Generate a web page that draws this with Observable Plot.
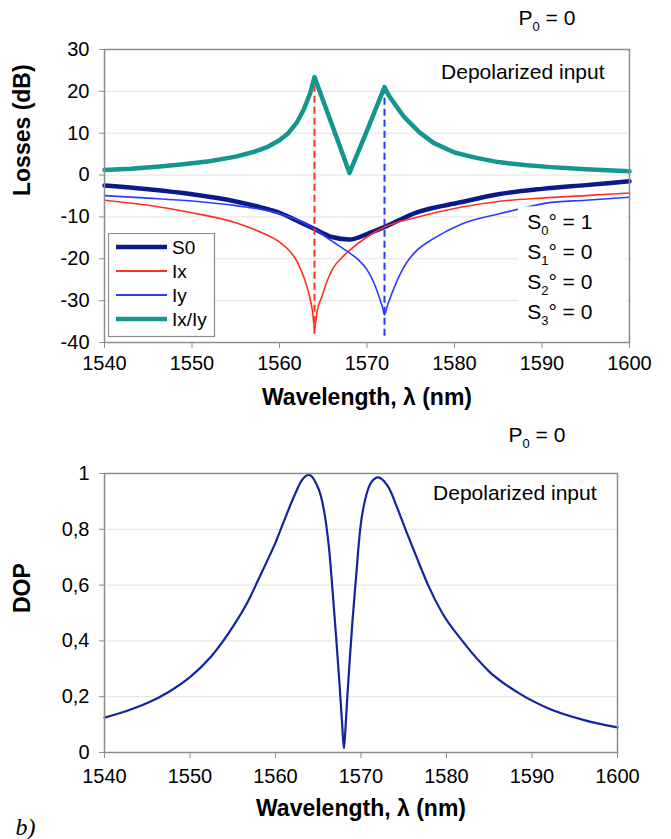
<!DOCTYPE html>
<html><head><meta charset="utf-8">
<script src="https://cdn.jsdelivr.net/npm/d3@7"></script>
<script src="https://cdn.jsdelivr.net/npm/@observablehq/plot@0.6"></script>
<style>
body{margin:0;background:#fff;}
#wrap{position:relative;width:671px;height:839px;font-family:"Liberation Sans",Arial,sans-serif;overflow:hidden;}
#topc,#botc,#legend{position:absolute;left:0;}
#topc{top:0}
#botc{top:410px}
#legend{left:108px;top:233px;}
</style></head><body><div id="wrap"><div id="topc"></div><div id="botc"></div><div id="legend"></div></div>
<script>
// ---------- data ----------
const xTicks = [1540,1550,1560,1570,1580,1590,1600];
const yTicksTop = [-40,-30,-20,-10,0,10,20,30];
const yTicksBot = [0,0.2,0.4,0.6,0.8,1];

const lamS0  = [1540,1545,1550,1555,1558,1560,1562.4,1564,1566,1568,1570,1572,1575.7,1580.7,1585,1590,1595,1600];
const lossS0 = [-2.5,-3.4,-4.6,-6.3,-7.8,-9.0,-11.3,-12.9,-14.8,-15.4,-14.1,-12.4,-8.9,-6.5,-4.6,-3.3,-2.4,-1.5];

const lamIx  = [1540,1545,1550,1555,1558,1560,1561,1562,1562.8,1563.4,1563.8,1564,1564.3,1564.85,1565.5,1566.2,1567.2,1568,1570,1572,1575.7,1580.7,1585,1590,1595,1600];
const lossIx = [-6.0,-7.2,-9.0,-11.4,-13.8,-16.0,-17.8,-20.6,-24.5,-28.7,-33.0,-36.8,-32.5,-29.0,-25.0,-22.0,-19.6,-18.0,-14.8,-12.4,-10.1,-7.7,-6.3,-5.5,-4.9,-4.3];

const lamIy  = [1540,1545,1550,1555,1560,1562.4,1564,1566,1568,1569,1570,1570.8,1571.4,1571.8,1572,1572.3,1572.6,1573.2,1573.8,1574.5,1575.5,1577.6,1580.7,1585,1587.2,1590.5,1595,1600];
const lossIy = [-4.9,-5.5,-6.2,-7.3,-9.2,-11.0,-12.9,-15.8,-18.6,-20.2,-22.6,-25.8,-29.2,-31.8,-33.4,-31.4,-29.6,-26.4,-23.6,-21.0,-18.4,-15.2,-11.8,-9.3,-8.2,-6.7,-6.0,-5.3];

const lamRatio  = [1540,1543,1546,1549,1552,1555,1557,1558.5,1560,1561,1562,1562.8,1563.5,1564,1566,1568,1570,1572,1572.5,1573.3,1574.2,1575,1576,1577.6,1580,1582.5,1585,1588,1591,1595,1600];
const lossRatio = [1.2,1.5,2.0,2.6,3.3,4.4,5.5,6.6,8.3,10.0,12.6,15.8,19.5,23.4,12.0,0.5,10.6,21.0,19.0,16.6,14.0,12.3,10.2,7.7,5.4,4.1,3.1,2.4,1.9,1.4,0.9];

// resonance markers (dashed): wavelength, bottom, top
const markLam = [1564,1572];
const markLow = [-38,-38.5];
const markHigh = [21.2,20.6];

const lamDop = [1540,1542.5,1545,1547.5,1550,1552.5,1555,1557,1558,1559,1560,1561,1562.2,1563,1563.9,1564.7,1565.3,1565.9,1566.3,1566.7,1567.1,1567.5,1567.8,1568.0,1568.15,1568.4,1568.7,1569.0,1569.4,1569.9,1570.6,1571.2,1572.0,1572.7,1573.4,1574.2,1575.2,1576.5,1577.85,1579.5,1581.85,1585,1588.6,1592,1596,1600];
const dop    = [0.125,0.148,0.177,0.217,0.27,0.345,0.45,0.555,0.62,0.685,0.752,0.83,0.92,0.972,0.995,0.968,0.92,0.824,0.72,0.57,0.41,0.24,0.10,0.015,0.07,0.20,0.34,0.47,0.62,0.80,0.92,0.968,0.986,0.972,0.94,0.88,0.80,0.70,0.60,0.50,0.40,0.29,0.21,0.157,0.117,0.09];

const seriesNames  = ["S0","Ix","Iy","Ix/Iy"];
const seriesColors = ["#0a1a8a","#ff3020","#2a3cff","#12968f"];
const seriesWidths = [4.5,1.6,1.6,4.5];

const stokesText = ["S0° = 1","S1° = 0","S2° = 0","S3° = 0"];
const stokesLam  = [1588.3,1588.3,1588.3,1588.3];
const stokesLoss = [-11.3,-18.4,-25.6,-32.7];
// white box behind the Stokes annotation
const boxLam = [1587.3,1599.6];
const boxLoss = [-39.3,-7.6];

const fmtComma = d => d === 0 ? "0" : d === 1 ? "1" : String(d).replace(".", ",");

// ---------- tables ----------
const tab = (xs, ys) => xs.map((x, i) => ({x, y: ys[i]}));
const s0 = tab(lamS0, lossS0), ix = tab(lamIx, lossIx), iy = tab(lamIy, lossIy), ratio = tab(lamRatio, lossRatio);
const markers = markLam.map((x, i) => ({x, y1: markLow[i], y2: markHigh[i], c: seriesColors[i + 1]}));
const stokes = stokesText.map((t, i) => ({x: stokesLam[i], y: stokesLoss[i], t}));
const box = [{x1: boxLam[0], x2: boxLam[1], y1: boxLoss[0], y2: boxLoss[1]}];
const dopT = tab(lamDop, dop);

const style = {fontFamily: "'Liberation Sans', Arial, sans-serif", fontSize: "20px", color: "#000", background: "white"};
const gridCol = "#e3e3e3", frameCol = "#8c8c8c";

function subscripts(svg) {
  d3.select(svg).selectAll("text").each(function () {
    const m = /^([SP])(\d)(.*=.*)$/.exec(this.textContent);
    if (!m) return;
    const el = d3.select(this);
    el.text(null);
    el.append("tspan").text(m[1]);
    el.append("tspan").attr("font-size", "13px").attr("dy", "6").text(m[2]);
    el.append("tspan").attr("dy", "-6").text(m[3]);
  });
}

// ---------- top chart ----------
const topChart = Plot.plot({
  width: 671, height: 410,
  marginLeft: 104, marginRight: 42, marginTop: 49, marginBottom: 68,
  style,
  color: {type: "identity"},
  x: {domain: [1540, 1600]},
  y: {domain: [-40, 30]},
  marks: [
    Plot.gridY(yTicksTop.slice(1, -1), {stroke: gridCol, strokeOpacity: 1}),
    Plot.line(s0, {x: "x", y: "y", stroke: seriesColors[0], strokeWidth: seriesWidths[0], curve: "monotone-x"}),
    Plot.line(ix, {x: "x", y: "y", stroke: seriesColors[1], strokeWidth: seriesWidths[1], curve: "monotone-x"}),
    Plot.line(iy, {x: "x", y: "y", stroke: seriesColors[2], strokeWidth: seriesWidths[2], curve: "monotone-x"}),
    Plot.ruleX(markers, {x: "x", y1: "y1", y2: "y2", stroke: "c", strokeWidth: 2, strokeDasharray: "7,4"}),
    Plot.line(ratio, {x: "x", y: "y", stroke: seriesColors[3], strokeWidth: seriesWidths[3], curve: "linear", strokeLinejoin: "round"}),
    Plot.rect(box, {x1: "x1", x2: "x2", y1: "y1", y2: "y2", fill: "white"}),
    Plot.text(stokes, {x: "x", y: "y", text: "t", textAnchor: "start", fontSize: 21}),
    Plot.text(["Depolarized input"], {frameAnchor: "top-right", dx: -25, dy: 23, textAnchor: "end", lineAnchor: "middle", fontSize: 21}),
    Plot.text(["P0 = 0"], {frameAnchor: "top-right", dx: -111, dy: -31, textAnchor: "start", lineAnchor: "middle", fontSize: 21}),
    Plot.frame({stroke: frameCol, strokeWidth: 1.5}),
    Plot.axisX({ticks: xTicks, tickSize: 6, tickPadding: 7, tickFormat: d => String(d), label: null, stroke: frameCol, fontSize: 20}),
    Plot.axisY({ticks: yTicksTop, tickSize: 5, tickPadding: 10, tickFormat: d => String(d), label: null, stroke: frameCol, fontSize: 20}),
    Plot.text(["Wavelength, λ (nm)"], {frameAnchor: "bottom", dy: 55, lineAnchor: "middle", fontWeight: "bold", fontSize: 23}),
    Plot.text(["Losses (dB)"], {frameAnchor: "left", dx: -82, rotate: -90, lineAnchor: "middle", fontWeight: "bold", fontSize: 23})
  ]
});
subscripts(topChart);
document.getElementById("topc").appendChild(topChart);

// ---------- legend ----------
const lg = d3.create("svg").attr("width", 108).attr("height", 105);
lg.append("rect").attr("x", 0.5).attr("y", 0.5).attr("width", 106).attr("height", 103)
  .attr("fill", "white").attr("stroke", "#8c8c8c").attr("stroke-width", 1.2);
seriesNames.forEach((n, i) => {
  const yy = 14 + i * 24;
  lg.append("line").attr("x1", 8).attr("x2", 59).attr("y1", yy).attr("y2", yy)
    .attr("stroke", seriesColors[i]).attr("stroke-width", seriesWidths[i] === 1.6 ? 2 : 4.5);
  lg.append("text").attr("x", 64).attr("y", yy).attr("dy", "0.35em")
    .attr("font-family", "'Liberation Sans', Arial, sans-serif").attr("font-size", 19).text(n);
});
document.getElementById("legend").appendChild(lg.node());

// ---------- bottom chart ----------
const botChart = Plot.plot({
  width: 671, height: 429,
  marginLeft: 104, marginRight: 54, marginTop: 63, marginBottom: 87,
  style,
  x: {domain: [1540, 1600]},
  y: {domain: [0, 1]},
  marks: [
    Plot.gridY(yTicksBot.slice(1, -1), {stroke: gridCol, strokeOpacity: 1}),
    Plot.line(dopT, {x: "x", y: "y", stroke: "#14249c", strokeWidth: 2.2, curve: "monotone-x"}),
    Plot.text(["Depolarized input"], {frameAnchor: "top-right", dx: -21, dy: 20, textAnchor: "end", lineAnchor: "middle", fontSize: 21}),
    Plot.text(["P0 = 0"], {frameAnchor: "top-right", dx: -109, dy: -38, textAnchor: "start", lineAnchor: "middle", fontSize: 21}),
    Plot.frame({stroke: frameCol, strokeWidth: 1.5}),
    Plot.axisX({ticks: xTicks, tickSize: 6, tickPadding: 10, tickFormat: d => String(d), label: null, stroke: frameCol, fontSize: 20}),
    Plot.axisY({ticks: yTicksBot, tickSize: 5, tickPadding: 10, tickFormat: fmtComma, label: null, stroke: frameCol, fontSize: 20}),
    Plot.text(["Wavelength, λ (nm)"], {frameAnchor: "bottom", dy: 56, lineAnchor: "middle", fontWeight: "bold", fontSize: 23}),
    Plot.text(["DOP"], {frameAnchor: "left", dx: -82, rotate: -90, lineAnchor: "middle", fontWeight: "bold", fontSize: 23}),
    Plot.text(["b)"], {frameAnchor: "bottom-left", dx: -89, dy: 82, textAnchor: "start", lineAnchor: "bottom", fontFamily: "'Liberation Serif', serif", fontStyle: "italic", fontSize: 24})
  ]
});
subscripts(botChart);
document.getElementById("botc").appendChild(botChart);
</script></body></html>
